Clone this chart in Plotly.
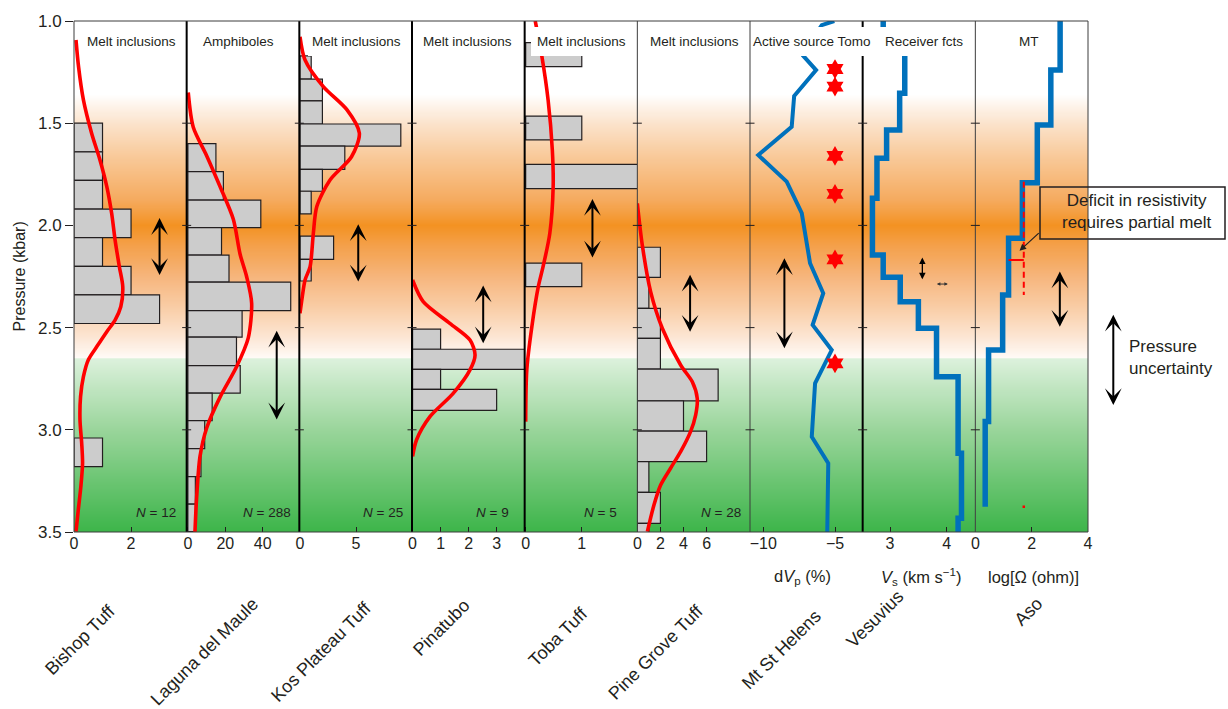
import numpy as np
import plotly.graph_objects as go

FONT = "Liberation Sans, Arial, Helvetica, sans-serif"
INK = "#231F20"
RED = "#FF0000"
BLUE = "#0071BC"
BAR_FILL = "#CCCCCC"

# ---------------------------------------------------------------- data
# Histograms: bin bottom / top pressure (kbar) and counts; KDE curves as (pressure, value)

# Bishop Tuff - melt inclusions
bishop_bin_lo = [1.50, 1.64, 1.78, 1.92, 2.06, 2.20, 2.34, 3.04]
bishop_bin_hi = [1.64, 1.78, 1.92, 2.06, 2.20, 2.34, 2.48, 3.18]
bishop_count = [1, 1, 1, 2, 1, 2, 3, 1]
bishop_kde_p = [1.093, 1.224, 1.386, 1.55, 1.68, 1.81, 1.941, 2.071, 2.202, 2.30, 2.398, 2.463,
                2.52, 2.593, 2.658, 2.74, 2.838, 2.952, 3.066, 3.164, 3.278, 3.392, 3.498]
bishop_kde_v = [0.07, 0.16, 0.33, 0.62, 0.91, 1.15, 1.32, 1.44, 1.59, 1.71, 1.64, 1.44,
                1.15, 0.80, 0.50, 0.33, 0.23, 0.21, 0.27, 0.30, 0.24, 0.15, 0.07]

# Laguna del Maule - amphiboles
laguna_edges = [1.600, 1.737, 1.876, 2.011, 2.145, 2.278, 2.417, 2.547, 2.686, 2.821,
                2.955, 3.092, 3.229, 3.364, 3.498]
laguna_count = [15, 19, 39, 18, 22, 55, 29, 26, 28, 13, 9, 7, 4, 4]
laguna_kde_p = [1.35, 1.52, 1.66, 1.81, 1.97, 2.14, 2.25, 2.38, 2.55, 2.69, 2.84, 2.99, 3.13, 3.33, 3.50]
laguna_kde_v = [0.2, 2.9, 10.1, 17.2, 24.3, 27.9, 31.4, 34.1, 32.3, 26.1, 17.2, 10.1, 6.5, 4.7, 3.8]

# Kos Plateau Tuff - melt inclusions
kos_bin_lo = [1.171, 1.284, 1.391, 1.504, 1.612, 1.726, 1.833, 2.052, 2.166]
kos_bin_hi = [1.284, 1.391, 1.504, 1.612, 1.726, 1.833, 1.944, 2.166, 2.272]
kos_count = [1, 2, 2, 9, 4, 2, 1, 3, 1]
kos_kde_p = [1.077, 1.191, 1.321, 1.435, 1.549, 1.664, 1.778, 1.908, 2.039, 2.202, 2.267, 2.35, 2.43]
kos_kde_v = [0.0, 0.45, 2.08, 4.2, 5.3, 4.6, 2.68, 1.5, 1.19, 0.9, 0.45, 0.2, 0.0]

# Pinatubo - melt inclusions
pinatubo_bin_lo = [2.507, 2.606, 2.704, 2.802]
pinatubo_bin_hi = [2.606, 2.704, 2.802, 2.905]
pinatubo_count = [1, 4, 1, 3]
pinatubo_kde_p = [2.267, 2.373, 2.479, 2.561, 2.634, 2.707, 2.822, 2.936, 3.05, 3.13]
pinatubo_kde_v = [0.0, 0.38, 1.33, 2.05, 2.23, 2.05, 1.45, 0.62, 0.14, 0.0]

# Toba Tuff - melt inclusions
toba_bin_lo = [1.106, 1.465, 1.701, 2.185]
toba_bin_hi = [1.223, 1.582, 1.820, 2.300]
toba_count = [1, 1, 2, 1]
toba_kde_p = [1.0, 1.175, 1.387, 1.631, 1.81, 2.039, 2.202, 2.30, 2.496, 2.707, 2.96]
toba_kde_v = [0.17, 0.29, 0.40, 0.475, 0.49, 0.43, 0.31, 0.225, 0.11, 0.02, 0.0]

# Pine Grove Tuff - melt inclusions
pine_edges = [2.107, 2.254, 2.406, 2.553, 2.703, 2.858, 3.006, 3.156, 3.306, 3.458, 3.608]
pine_count = [2, 1, 2, 2, 7, 4, 6, 1, 2, 1]
pine_kde_p = [1.892, 2.096, 2.324, 2.503, 2.683, 2.765, 2.846, 2.928, 3.009, 3.107, 3.188, 3.27, 3.368, 3.498]
pine_kde_v = [0.0, 0.43, 1.15, 2.16, 3.75, 4.76, 5.19, 5.05, 4.61, 3.75, 2.88, 2.02, 1.44, 0.87]

# Mt St Helens - active source tomography (dVp %) and seismicity stars
tomo_p = [1.00, 1.02, 1.09, 1.171, 1.24, 1.367, 1.517, 1.656, 1.786, 1.94, 2.185,
          2.332, 2.487, 2.61, 2.773, 3.034, 3.164, 3.50]
tomo_dvp = [-5.05, -5.92, -6.60, -7.21, -6.32, -7.85, -8.02, -10.35, -8.37, -7.32, -6.74,
            -5.82, -6.56, -5.23, -6.39, -6.62, -5.47, -5.54]
star_p = [1.235, 1.321, 1.66, 1.846, 2.166, 2.675]
star_dvp = [-5.0, -5.0, -5.0, -5.0, -5.0, -5.0]

# Vesuvius - receiver functions (Vs, km/s), layer tops
vs_top = [1.00, 1.10, 1.354, 1.533, 1.672, 1.867, 2.145, 2.254, 2.373, 2.503, 2.740, 3.115, 3.433]
vs_bottom = 3.5
vs_value = [2.88, 3.26, 3.17, 2.94, 2.77, 2.69, 2.88, 3.18, 3.50, 3.82, 4.20, 4.26, 4.20]

# Aso - magnetotellurics, log resistivity layer tops
mt_top = [1.00, 1.24, 1.509, 1.791, 2.063, 2.34, 2.61, 2.96]
mt_bottom = 3.376
mt_value = [3.01, 2.68, 2.20, 1.67, 1.18, 0.97, 0.47, 0.35]
mt_melt_p = [1.786, 2.34]          # dashed melt-free reference
mt_melt_v = [1.72, 1.72]
mt_deficit_p = [2.169, 2.169]
mt_deficit_v = [1.18, 1.72]

# pressure-uncertainty arrows per panel: value position, top, bottom
arrow_v = [3.0, 47.5, 5.2, 2.52, 1.19, 4.57, -8.53, 3.57, 3.0]
arrow_top = [1.957, 2.508, 1.987, 2.287, 1.863, 2.234, 2.153, 2.150, 2.218]
arrow_bot = [2.243, 2.949, 2.275, 2.577, 2.157, 2.520, 2.601, 2.264, 2.496]

# background shading: pressure stops and colours
shade_stop_p = [1.00, 1.36, 1.50, 1.70, 1.88, 2.00, 2.10, 2.25, 2.40, 2.55, 2.645, 2.652, 3.00, 3.50]
shade_stop_c = ["#ffffff", "#ffffff", "#fbe3cc", "#f8c48f", "#f5aa5e", "#f39222", "#f4a04a",
                "#f6b57c", "#f9cda6", "#fce6d4", "#fffaf6", "#dcf1dc", "#9ad59b", "#3db54a"]

site_names = ["Bishop Tuff", "Laguna del Maule", "Kos Plateau Tuff", "Pinatubo", "Toba Tuff",
              "Pine Grove Tuff", "Mt St Helens", "Vesuvius", "Aso"]
method_names = ["Melt inclusions", "Amphiboles", "Melt inclusions", "Melt inclusions",
                "Melt inclusions", "Melt inclusions", "Active source Tomo", "Receiver fcts", "MT"]
n_labels = ["12", "288", "25", "9", "5", "28"]

x_ranges = [[0, 3.95], [-0.64, 59.6], [-0.06, 10.0], [-0.02, 4.0], [-0.018, 1.99],
            [0, 9.76], [-10.93, -3.07], [2.518, 4.504], [0, 4]]
x_ticks = [[0, 2], [0, 20, 40], [0, 5], [0, 1, 2, 3], [0, 1], [0, 2, 4, 6], [-10, -5], [3, 4], [0, 2, 4]]
p_ticks = [1.0, 1.5, 2.0, 2.5, 3.0, 3.5]

# ---------------------------------------------------------------- geometry helpers
W, H = 1228, 709
ML, MR, MTOP, MB = 74, 140, 21, 177
PW, PH = W - ML - MR, H - MTOP - MB


def fx(px):
    return (px - ML) / PW


def fy(py):
    return (H - MB - py) / PH


axes = ["x"] + [f"x{i}" for i in range(2, 10)]

fig = go.Figure()

# shaded background in every panel
shade_levels = np.linspace(1.0, 3.5, 501)
scale = [[(p - 1.0) / 2.5, c] for p, c in zip(shade_stop_p, shade_stop_c)]
for i, ax in enumerate(axes):
    fig.add_trace(go.Heatmap(
        x=x_ranges[i], y=shade_levels, z=[[p, p] for p in shade_levels],
        zmin=1.0, zmax=3.5, colorscale=scale, showscale=False, zsmooth=False,
        hoverinfo="skip", xaxis=ax, yaxis="y"))


def hist(lo, hi, counts, ax):
    return go.Bar(
        y=[(a + b) / 2 for a, b in zip(lo, hi)], x=counts,
        width=[b - a for a, b in zip(lo, hi)], orientation="h", base=0,
        marker=dict(color=BAR_FILL, line=dict(color=INK, width=1.2)),
        xaxis=ax, yaxis="y", hoverinfo="skip")


def kde(p, v, ax):
    return go.Scatter(x=v, y=p, mode="lines", line=dict(color=RED, width=3.6, shape="spline", smoothing=0.8),
                      xaxis=ax, yaxis="y", hoverinfo="skip")


fig.add_trace(hist(bishop_bin_lo, bishop_bin_hi, bishop_count, axes[0]))
fig.add_trace(kde(bishop_kde_p, bishop_kde_v, axes[0]))
fig.add_trace(hist(laguna_edges[:-1], laguna_edges[1:], laguna_count, axes[1]))
fig.add_trace(kde(laguna_kde_p, laguna_kde_v, axes[1]))
fig.add_trace(hist(kos_bin_lo, kos_bin_hi, kos_count, axes[2]))
fig.add_trace(kde(kos_kde_p, kos_kde_v, axes[2]))
fig.add_trace(hist(pinatubo_bin_lo, pinatubo_bin_hi, pinatubo_count, axes[3]))
fig.add_trace(kde(pinatubo_kde_p, pinatubo_kde_v, axes[3]))
fig.add_trace(hist(toba_bin_lo, toba_bin_hi, toba_count, axes[4]))
fig.add_trace(kde(toba_kde_p, toba_kde_v, axes[4]))
fig.add_trace(hist(pine_edges[:-1], pine_edges[1:], pine_count, axes[5]))
fig.add_trace(kde(pine_kde_p, pine_kde_v, axes[5]))

# tomography profile and seismicity
fig.add_trace(go.Scatter(x=tomo_dvp, y=tomo_p, mode="lines", line=dict(color=BLUE, width=4),
                         xaxis=axes[6], yaxis="y", hoverinfo="skip"))
fig.add_trace(go.Scatter(x=star_dvp, y=star_p, mode="markers",
                         marker=dict(symbol="hexagram", size=15, color=RED, line=dict(width=0)),
                         xaxis=axes[6], yaxis="y", hoverinfo="skip"))

# stepped Vs and resistivity models
fig.add_trace(go.Scatter(x=vs_value + [vs_value[-1]], y=vs_top + [vs_bottom], mode="lines",
                         line=dict(color=BLUE, width=5.5, shape="vh"),
                         xaxis=axes[7], yaxis="y", hoverinfo="skip"))
fig.add_trace(go.Scatter(x=mt_value + [mt_value[-1]], y=mt_top + [mt_bottom], mode="lines",
                         line=dict(color=BLUE, width=5.5, shape="vh"),
                         xaxis=axes[8], yaxis="y", hoverinfo="skip"))
fig.add_trace(go.Scatter(x=mt_melt_v, y=mt_melt_p, mode="lines",
                         line=dict(color=RED, width=2, dash="6px,4px"),
                         xaxis=axes[8], yaxis="y", hoverinfo="skip"))
fig.add_trace(go.Scatter(x=mt_deficit_v, y=mt_deficit_p, mode="lines",
                         line=dict(color=RED, width=2),
                         xaxis=axes[8], yaxis="y", hoverinfo="skip"))
fig.add_trace(go.Scatter(x=[mt_melt_v[0]], y=[mt_bottom], mode="markers",
                         marker=dict(color=RED, size=2.5, symbol="square"),
                         xaxis=axes[8], yaxis="y", hoverinfo="skip"))

# ---------------------------------------------------------------- axes
layout = dict(
    width=W, height=H, margin=dict(l=ML, r=MR, t=MTOP, b=MB, pad=0),
    paper_bgcolor="white", plot_bgcolor="rgba(0,0,0,0)", showlegend=False, barmode="overlay",
    font=dict(family=FONT, color=INK),
)
for i, ax in enumerate(axes):
    key = "xaxis" if i == 0 else f"xaxis{i + 1}"
    layout[key] = dict(
        domain=[i / 9, (i + 1) / 9], anchor="y", range=x_ranges[i],
        tickvals=x_ticks[i], ticktext=[str(t).replace("-", "\u2212") for t in x_ticks[i]],
        ticks="inside", ticklen=5, tickwidth=1, tickcolor=INK,
        showgrid=False, zeroline=False, showline=False, fixedrange=True,
        tickfont=dict(size=16, color=INK, family=FONT))
layout["yaxis"] = dict(
    domain=[0, 1], anchor="x", range=[3.5, 1.0], tickvals=p_ticks,
    ticktext=[f"{p:.1f}" for p in p_ticks], ticks="outside", ticklen=8, tickwidth=1,
    tickcolor=INK, showgrid=False, zeroline=False, showline=False, fixedrange=True,
    tickfont=dict(size=17, color=INK, family=FONT))
fig.update_layout(**layout)

# ---------------------------------------------------------------- frame, ticks and label boxes
shapes = []
border_px = [ML + k * PW / 9 for k in range(10)]
thick = {1, 2, 3, 4, 7}
for k, bx in enumerate(border_px):
    shapes.append(dict(type="line", xref="paper", yref="paper", x0=fx(bx), x1=fx(bx), y0=0, y1=1,
                       line=dict(color="black" if k in thick else "#3c3c3c", width=2 if k in thick else 1)))
shapes.append(dict(type="line", xref="paper", yref="paper", x0=0, x1=1, y0=1, y1=1,
                   line=dict(color="#3c3c3c", width=1)))
shapes.append(dict(type="line", xref="paper", yref="paper", x0=0, x1=1, y0=0, y1=0,
                   line=dict(color="#3c3c3c", width=1)))
for bx in border_px[1:9]:
    for p in p_ticks[1:5]:
        shapes.append(dict(type="line", xref="paper", yref="y", x0=fx(bx - 4.5), x1=fx(bx + 4.5), y0=p, y1=p,
                           line=dict(color=INK, width=1)))

title_cx = [131, 238.5, 356.5, 467, 581.5, 694, 812, 923.5, 1029]
box_x = [(80, 182), (197, 280), (308, 405), (417, 518), (531, 632), (643, 745), (751, 875), (879, 968), (1014, 1044)]
for (a, b) in box_x:
    shapes.append(dict(type="rect", xref="paper", yref="paper", x0=fx(a), x1=fx(b), y0=fy(56), y1=fy(27),
                       fillcolor="white", line=dict(width=0)))
# callout box
shapes.append(dict(type="rect", xref="paper", yref="paper", x0=fx(1040), x1=fx(1225), y0=fy(239), y1=fy(187),
                   fillcolor="rgba(0,0,0,0)", line=dict(color=INK, width=1.5)))

annotations = []
for i, name in enumerate(method_names):
    annotations.append(dict(text=name, xref="paper", yref="paper", x=fx(title_cx[i]), y=fy(41),
                            showarrow=False, xanchor="center", yanchor="middle",
                            font=dict(size=13.5, color=INK)))

n_right = [178.3, 293.3, 405, 510.7, 619.3, 742.7]
for i, n in enumerate(n_labels):
    annotations.append(dict(text=f"<i>N</i> = {n}", xref="paper", yref="paper", x=fx(n_right[i]), y=fy(512),
                            showarrow=False, xanchor="right", yanchor="middle",
                            font=dict(size=13.5, color=INK)))

site_c = [(80, 640), (204, 652), (321, 652), (441, 628), (558, 637),
          (656, 652), (781, 650), (875, 619), (1028, 612)]
for i, name in enumerate(site_names):
    annotations.append(dict(text=name, xref="paper", yref="paper", x=fx(site_c[i][0]), y=fy(site_c[i][1]),
                            showarrow=False, xanchor="center", yanchor="middle", textangle=-45,
                            font=dict(size=18, color=INK)))

unit_labels = [("d<i>V</i><sub>p</sub> (%)", 802), ("<i>V</i><sub>s</sub> (km s<sup>\u22121</sup>)", 921),
               ("log[\u03a9 (ohm)]", 1033)]
for txt, cx in unit_labels:
    annotations.append(dict(text=txt, xref="paper", yref="paper", x=fx(cx), y=fy(577), showarrow=False,
                            xanchor="center", yanchor="middle", font=dict(size=16.5, color=INK)))

annotations.append(dict(text="Pressure (kbar)", xref="paper", yref="paper", x=fx(18.5), y=fy(277),
                        showarrow=False, textangle=-90, xanchor="center", yanchor="middle",
                        font=dict(size=16, color=INK)))

# double-headed pressure-uncertainty arrows
for i, ax in enumerate(axes):
    small = i == 7
    annotations.append(dict(
        text="", x=arrow_v[i], y=arrow_bot[i], ax=arrow_v[i], ay=arrow_top[i],
        xref=ax, yref="y", axref=ax, ayref="y", showarrow=True,
        arrowhead=3 if not small else 2, startarrowhead=3 if not small else 2, arrowside="end+start",
        arrowsize=1.4 if not small else 1.0, startarrowsize=1.4 if not small else 1.0,
        arrowwidth=2 if not small else 1.3, arrowcolor="black", standoff=0, startstandoff=0))
# horizontal Vs-uncertainty arrow
annotations.append(dict(
    text="", x=4.02, y=2.287, ax=3.80, ay=2.287, xref=axes[7], yref="y", axref=axes[7], ayref="y",
    showarrow=True, arrowhead=2, startarrowhead=2, arrowside="end+start", arrowsize=0.7,
    startarrowsize=0.7, arrowwidth=1, arrowcolor="#333333", standoff=0, startstandoff=0))

# legend arrow outside the panels
annotations.append(dict(
    text="", x=fx(1113.3), y=2.879, xref="paper", yref="y", ax=0, ay=2.43, axref="pixel", ayref="y",
    showarrow=True, arrowhead=3, startarrowhead=3, arrowside="end+start", arrowsize=1.4,
    startarrowsize=1.4, arrowwidth=2, arrowcolor="black"))
annotations.append(dict(text="Pressure<br>uncertainty", xref="paper", yref="paper", x=fx(1127), y=fy(357.5),
                        showarrow=False, xanchor="left", yanchor="middle", align="left",
                        font=dict(size=17, color=INK)))

# resistivity callout
annotations.append(dict(text="Deficit in resistivity<br>requires partial melt", xref="paper", yref="paper",
                        x=fx(1137), y=fy(211), showarrow=False, xanchor="center", yanchor="middle",
                        align="center", font=dict(size=17, color=INK)))
annotations.append(dict(text="", x=1.57, y=2.124, xref=axes[8], yref="y", ax=20.7, ay=-19,
                        showarrow=True, arrowhead=2, arrowsize=1.1, arrowwidth=1.2, arrowcolor=INK))

fig.update_layout(shapes=shapes, annotations=annotations)
fig.write_html("out.html")
